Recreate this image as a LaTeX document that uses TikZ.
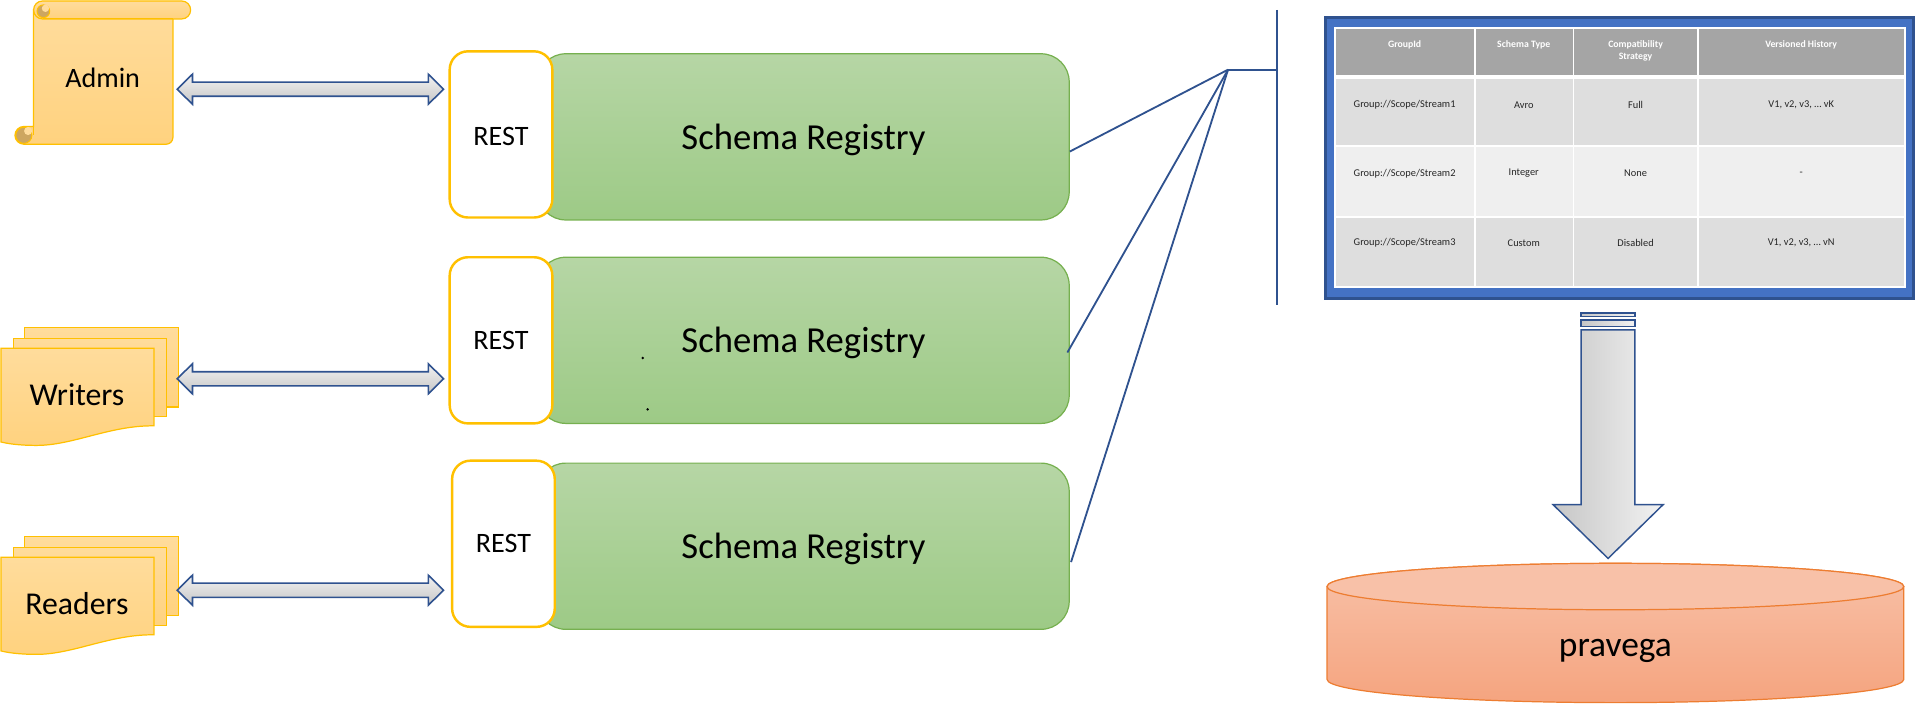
\documentclass[tikz,border=0pt]{standalone}
\usepackage{fontspec}
\setmainfont{Carlito}
\usetikzlibrary{calc}
\definecolor{blueline}{HTML}{2F528F}
\definecolor{tblue}{HTML}{4472C4}
\definecolor{hdr}{HTML}{A5A5A5}
\definecolor{rowa}{HTML}{DEDEDE}
\definecolor{rowb}{HTML}{EFEFEF}
\definecolor{gold}{HTML}{FFC000}
\definecolor{doctop}{HTML}{FFDC9C}
\definecolor{docbot}{HTML}{FFD27F}
\definecolor{curl}{HTML}{CDA660}
\definecolor{gtop}{HTML}{B6D6A5}
\definecolor{gbot}{HTML}{9DCA86}
\definecolor{gborder}{HTML}{76B04F}
\definecolor{cyltop}{HTML}{F8C1A8}
\definecolor{cylbot}{HTML}{F5A47F}
\definecolor{cylborder}{HTML}{ED7D31}
\definecolor{arlight}{HTML}{F2F2F2}
\definecolor{ardark}{HTML}{C6C6C6}
\definecolor{celltext}{HTML}{262626}
\newcommand\hdblarrow[2]{%
  \draw[blockarrow] (#1) -- ($(#1)+(12.5,-12.3)$) -- ($(#1)+(12.5,-5.8)$)
   -- ($(#2)+(-12.5,-5.8)$) -- ($(#2)+(-12.5,-12.3)$) -- (#2)
   -- ($(#2)+(-12.5,12.3)$) -- ($(#2)+(-12.5,5.8)$) -- ($(#1)+(12.5,5.8)$)
   -- ($(#1)+(12.5,12.3)$) -- cycle;}
\newcommand\docstack[1]{%
  \begin{scope}[yshift=-#1pt]
  \draw[docshape] (20,268) rectangle (146,333);
  \draw[docshape] (11,277) rectangle (136,341);
  \draw[docshape] (0.8,285) -- (126,285) -- (126,348.5)
     .. controls (90,348) and (60,364.5) .. (30,364.5)
     .. controls (15,364.5) and (6,363) .. (0.8,361.7) -- cycle;
  \end{scope}}
\newcommand\srtext{\raisebox{-2.5pt}[\height][\depth]{Schema Registry}}
\begin{document}
\begin{tikzpicture}[x=1pt,y=-1pt,
  blockarrow/.style={draw=blueline,line width=1.3pt,top color=arlight,bottom color=ardark,line join=miter},
  docshape/.style={draw=gold,line width=1pt,top color=doctop,bottom color=docbot},
  greenbox/.style={draw=gborder,line width=1pt,rounded corners=23pt,top color=gtop,bottom color=gbot,
     minimum width=435pt,minimum height=136pt,inner sep=0pt,font=\fontsize{30}{36}\selectfont},
  restbox/.style={draw=gold,line width=2pt,rounded corners=15pt,fill=white,
     minimum width=84pt,minimum height=136pt,inner sep=0pt,font=\fontsize{23}{28}\selectfont},
  actor/.style={inner sep=0pt,font=\fontsize{26}{31}\selectfont},
  conn/.style={draw=blueline,line width=1.5pt},
  curlfill/.style={draw=gold,line width=0.8pt,fill=curl},
  hcell/.style={inner sep=0pt,text=white,font=\fontsize{8}{10}\selectfont\bfseries,align=center},
  bcell/.style={inner sep=0pt,text=celltext,font=\fontsize{8.5}{10}\selectfont}]
\useasboundingbox (0,0) rectangle (1568,576);

% ---------- Admin scroll ----------
\draw[docshape] (27.5,8) -- (141.5,8) -- (141.5,112.5) arc (0:90:5.5) -- (19.5,118) arc (90:270:7.25) -- (27.5,103.5) -- cycle;
\draw[curlfill] (19.5,110.75) circle (6.6);
\fill[doctop] (23,107.2) circle (3.3);
\draw[gold,line width=0.8pt] (27.5,103.5) -- (27.5,110.75);
\draw[docshape,rounded corners=7.3pt] (27.5,0.8) rectangle (156,15.5);
\draw[curlfill] (35.5,9.2) circle (5.2);
\fill[doctop] (37.2,6.8) circle (3.0);
\draw[gold,line width=0.8pt] (35,15.5) -- (141.5,15.5);
\node[actor,font=\fontsize{23}{28}\selectfont] (admin) at (84,64) {Admin};

% ---------- Writers / Readers ----------
\docstack{0}
\docstack{171}
\node[actor] (writers) at (63,323) {Writers};
\node[actor] (readers) at (63,494) {Readers};

% ---------- Schema registries ----------
\node[greenbox] (sr1) at (657.5,112) {\srtext};
\node[greenbox] (sr2) at (657.5,278.5) {\srtext};
\node[greenbox] (sr3) at (657.5,447) {\srtext};
\node[restbox] (rest1) at (410,110) {\raisebox{-1.5pt}[\height][\depth]{REST}};
\node[restbox] (rest2) at (410,278.5) {REST};
\node[restbox] (rest3) at (412,445) {REST};
\fill (526,293) circle (1.1);
\fill (530,335) circle (1.1);

% ---------- double arrows ----------
\coordinate (a1s) at (145,73);
\coordinate (a1e) at ($(rest1.west)+(-4,0)$);
\coordinate (a1e) at (a1e |- a1s);
\hdblarrow{a1s}{a1e}
\coordinate (a2s) at (145,310);
\coordinate (a2e) at ($(rest2.west)+(-4,0)$);
\coordinate (a2e) at (a2e |- a2s);
\hdblarrow{a2s}{a2e}
\coordinate (a3s) at (145,483);
\coordinate (a3e) at ($(rest3.west)+(-6,0)$);
\coordinate (a3e) at (a3e |- a3s);
\hdblarrow{a3s}{a3e}

% ---------- connectors ----------
\coordinate (J) at (1005,57);
\coordinate (busT) at (1045,8);
\coordinate (busB) at (1045,250);
\coordinate (busJ) at (1045,57);
\draw[conn] ($(sr1.east)+(0,12)$) -- (J);
\draw[conn] ($(sr2.east)+(-2,10)$) -- (J);
\draw[conn] ($(sr3.east)+(1,13)$) -- (J);
\draw[conn] (J) -- (busJ);
\draw[conn] (busT) -- (busB);

% ---------- table ----------
\draw[draw=blueline,line width=2.5pt,fill=tblue] (1085,14) rectangle (1566,244);
\fill[white] (1091.5,22.5) rectangle (1559.5,235.5);
\foreach \xa/\xb in {1093/1206,1207.5/1287,1288.5/1389,1390.5/1558}{
  \fill[hdr]  (\xa,24) rectangle (\xb,61);
  \fill[rowa] (\xa,65) rectangle (\xb,119);
  \fill[rowb] (\xa,120.5) rectangle (\xb,176.5);
  \fill[rowa] (\xa,178) rectangle (\xb,234);
}
\node[hcell] (h1) at (1149.5,36.5) {GroupId};
\node[hcell] (h2) at (1247,36.5) {Schema Type};
\node[hcell] (h3) at (1338.5,41.5) {Compatibility\\Strategy};
\node[hcell] (h4) at (1474,36.5) {Versioned History};
\node[bcell] (c11) at (1149.5,86) {Group://Scope/Stream1};
\node[bcell] (c12) at (1247,86) {Avro};
\node[bcell] (c13) at (1338.5,86) {Full};
\node[bcell] (c14) at (1474,86) {V1, v2, v3, … vK};
\node[bcell] (c21) at (1149.5,142) {Group://Scope/Stream2};
\node[bcell] (c22) at (1247,142) {Integer};
\node[bcell] (c23) at (1338.5,142) {None};
\node[bcell] (c24) at (1474,142) {-};
\node[bcell] (c31) at (1149.5,199) {Group://Scope/Stream3};
\node[bcell] (c32) at (1247,199) {Custom};
\node[bcell] (c33) at (1338.5,199) {Disabled};
\node[bcell] (c34) at (1474,199) {V1, v2, v3, … vN};

% ---------- down arrow ----------
\draw[draw=blueline,line width=1.2pt,left color=ardark,right color=arlight] (1294,256) rectangle (1338,259);
\draw[draw=blueline,line width=1.2pt,left color=ardark,right color=arlight] (1294,262) rectangle (1338,267);
\draw[draw=blueline,line width=1.2pt,left color=ardark,right color=arlight,line join=miter]
  (1294,270) -- (1338,270) -- (1338,413) -- (1361,413) -- (1316,457) -- (1271,413) -- (1294,413) -- cycle;

% ---------- cylinder ----------
\draw[draw=cylborder,line width=1pt,top color=cyltop,bottom color=cylbot]
  (1086,480) -- (1086,556) arc (180:0:236 and 19) -- (1558,480) arc (0:-180:236 and 19) -- cycle;
\draw[draw=cylborder,line width=1pt,fill=cyltop] (1322,480) ellipse (236 and 19);
\node[inner sep=0pt,font=\fontsize{29}{35}\selectfont] (pravega) at (1322,533) {pravega};
\end{tikzpicture}
\end{document}
